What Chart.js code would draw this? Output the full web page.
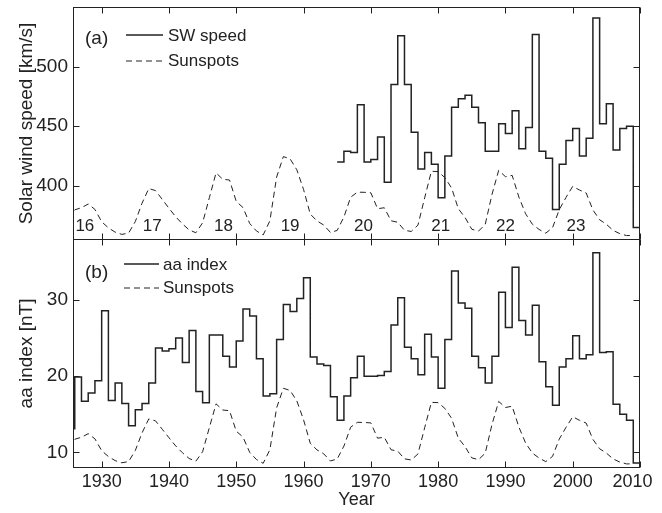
<!DOCTYPE html>
<html>
<head>
<meta charset="utf-8">
<script src="https://cdn.jsdelivr.net/npm/chart.js@4.4.0/dist/chart.umd.min.js"></script>
<style>
  body { margin: 0; background: #fff; }
  #wrap { position: relative; width: 662px; height: 513px; }
  canvas { position: absolute; left: 0; }
</style>
</head>
<body>
<div id="wrap">
  <canvas id="swChart" width="662" height="240" style="top:0"></canvas>
  <canvas id="aaChart" width="662" height="274" style="top:239px"></canvas>
</div>
<script>
// yearly values
var years = [1925, 1926, 1927, 1928, 1929, 1930, 1931, 1932, 1933, 1934,
  1935, 1936, 1937, 1938, 1939, 1940, 1941, 1942, 1943, 1944,
  1945, 1946, 1947, 1948, 1949, 1950, 1951, 1952, 1953, 1954,
  1955, 1956, 1957, 1958, 1959, 1960, 1961, 1962, 1963, 1964,
  1965, 1966, 1967, 1968, 1969, 1970, 1971, 1972, 1973, 1974,
  1975, 1976, 1977, 1978, 1979, 1980, 1981, 1982, 1983, 1984,
  1985, 1986, 1987, 1988, 1989, 1990, 1991, 1992, 1993, 1994,
  1995, 1996, 1997, 1998, 1999, 2000, 2001, 2002, 2003, 2004,
  2005, 2006, 2007, 2008, 2009];

var sunspots = [44.3, 63.9, 69.0, 77.8, 65.0, 35.7, 21.2, 11.1, 5.7, 8.7,
  36.1, 79.7, 114.4, 109.6, 88.8, 67.8, 47.5, 30.6, 16.3, 9.6,
  33.2, 92.6, 151.6, 136.3, 134.7, 83.9, 69.4, 31.5, 13.9, 4.4,
  38.0, 141.7, 190.2, 184.8, 159.0, 112.3, 53.9, 37.6, 27.9, 10.2,
  15.1, 47.0, 93.8, 105.9, 105.5, 104.5, 66.6, 68.9, 38.0, 34.5,
  15.5, 12.6, 27.5, 92.5, 155.4, 154.6, 140.4, 115.9, 66.6, 45.9,
  17.9, 13.4, 29.4, 100.2, 157.6, 142.6, 145.7, 94.3, 54.6, 29.9,
  17.5, 8.6, 21.5, 64.3, 93.3, 119.6, 111.0, 104.0, 63.7, 40.4,
  29.8, 15.2, 7.5, 2.9, 3.1];

var aaIndex = [13.1, 19.9, 16.7, 17.8, 19.4, 28.6, 16.8, 19.1, 16.4, 13.5,
  15.6, 16.4, 19.1, 23.7, 23.3, 23.6, 25.0, 21.8, 26.0, 18.0,
  16.5, 25.4, 25.4, 22.6, 21.2, 24.6, 28.8, 27.9, 22.3, 17.4,
  17.7, 24.8, 29.4, 28.5, 30.2, 32.9, 22.5, 21.6, 21.4, 17.3,
  14.2, 17.4, 19.8, 22.6, 20.0, 20.0, 20.1, 20.6, 26.7, 30.3,
  23.8, 22.3, 20.2, 25.5, 22.5, 18.4, 24.8, 33.8, 29.6, 28.9,
  22.6, 21.1, 19.1, 22.6, 31.0, 26.4, 34.3, 27.3, 25.4, 29.3,
  21.9, 18.6, 16.2, 21.2, 22.3, 25.3, 22.3, 22.8, 36.2, 23.1,
  23.2, 16.3, 15.0, 14.2, 8.6];

// solar wind data start in 1965
var swSpeed = [null, null, null, null, null, null, null, null, null, null,
  null, null, null, null, null, null, null, null, null, null,
  null, null, null, null, null, null, null, null, null, null,
  null, null, null, null, null, null, null, null, null, null,
  420, 429, 428, 468, 420, 422, 441, 403, 485, 526,
  485, 445, 414, 428, 418, 390, 425, 466, 473, 476,
  466, 453, 429, 429, 452, 444, 463, 431, 449, 527,
  429, 423, 380, 418, 438, 448, 425, 440, 541, 452,
  469, 430, 448, 450, 365];

var cycleNames = ['16', '17', '18', '19', '20', '21', '22', '23'];
var cycleYears = [1927.5, 1937.5, 1948.1, 1958.0, 1968.9, 1980.4, 1990.0, 2000.5];
var cycleLevel = 365.5;

var yearTicks = [1930, 1940, 1950, 1960, 1970, 1980, 1990, 2000, 2010];
var swTicks = [400, 450, 500];
var aaTicks = [10, 20, 30];

var ink = '#222';
var fontName = "'Liberation Sans', Arial, sans-serif";
Chart.defaults.font.family = fontName;
Chart.defaults.color = ink;

// stairs: each value holds for one year, add closing point
function stairs(vals) {
  var pts = [];
  for (var i = 0; i < years.length; i++) {
    pts.push({ x: years[i], y: vals[i] });
  }
  pts.push({ x: years[years.length - 1] + 1, y: vals[vals.length - 1] });
  return pts;
}

function curve(vals) {
  return years.map(function (y, i) { return { x: y, y: vals[i] }; });
}

function setTicks(list) {
  return function (scale) {
    scale.ticks = list.map(function (v) { return { value: v }; });
  };
}

// box round the plot and inward tick marks (matlab style)
var frame = {
  id: 'frame',
  afterDraw: function (chart) {
    var ctx = chart.ctx, a = chart.chartArea;
    var xs = chart.scales.x, ys = chart.scales.y;
    var l = Math.round(a.left) + 0.5, r = Math.round(a.right) - 0.5;
    var t = Math.round(a.top) + 0.5, b = Math.round(a.bottom) - 0.5;
    ctx.save();
    ctx.strokeStyle = ink;
    ctx.lineWidth = 1;
    ctx.strokeRect(l, t, r - l, b - t);
    ctx.beginPath();
    xs.ticks.forEach(function (tk) {
      var px = Math.round(xs.getPixelForValue(tk.value)) + 0.5;
      ctx.moveTo(px, b); ctx.lineTo(px, b - 6);
      ctx.moveTo(px, t); ctx.lineTo(px, t + 6);
    });
    ys.ticks.forEach(function (tk) {
      var py = Math.round(ys.getPixelForValue(tk.value)) + 0.5;
      ctx.moveTo(l, py); ctx.lineTo(l + 6, py);
      ctx.moveTo(r, py); ctx.lineTo(r - 6, py);
    });
    ctx.stroke();

    // panel key
    var k = chart.options.plugins.frame;
    ctx.fillStyle = ink;
    ctx.textBaseline = 'middle';
    ctx.font = '19px ' + fontName;
    ctx.fillText(k.tag, a.left + 12, a.top + k.tagY);
    ctx.font = '17px ' + fontName;
    ctx.fillText(k.names[0], k.textX, a.top + k.row1 + 1.5);
    ctx.fillText(k.names[1], k.textX, a.top + k.row2);
    ctx.lineWidth = 1.3;
    ctx.beginPath();
    ctx.moveTo(k.lineX[0], a.top + k.row1); ctx.lineTo(k.lineX[1], a.top + k.row1);
    ctx.stroke();
    ctx.lineWidth = 1;
    ctx.setLineDash([6, 4]);
    ctx.beginPath();
    ctx.moveTo(k.lineX[0], a.top + k.row2); ctx.lineTo(k.lineX[1], a.top + k.row2);
    ctx.stroke();
    ctx.setLineDash([]);

    // cycle numbers
    if (k.cycles) {
      ctx.textAlign = 'center';
      cycleNames.forEach(function (n, i) {
        ctx.fillText(n, xs.getPixelForValue(cycleYears[i]), ys.getPixelForValue(cycleLevel));
      });
    }
    ctx.restore();
  }
};

var xMin = 1925.74, xMax = 2010;

function xScale(showLabels, h) {
  return {
    type: 'linear', min: xMin, max: xMax,
    afterBuildTicks: setTicks(yearTicks),
    afterFit: function (s) {
      s.height = h;
      s.paddingLeft = 0; s.paddingRight = 0;
    },
    grid: { display: false, drawTicks: false }, border: { display: false },
    ticks: { display: showLabels, padding: 3, autoSkip: false, maxRotation: 0,
      font: { size: 18 },
      // last label sits a little inside the right edge, as in the figure
      callback: function (v) { return v === xMax ? v + '   ' : String(v); } },
    title: { display: showLabels, text: 'Year', font: { size: 18 }, padding: { top: 0, bottom: 2.5 } }
  };
}

function yScale(min, max, list, label) {
  return {
    type: 'linear', min: min, max: max,
    afterBuildTicks: setTicks(list),
    afterFit: function (s) {
      s.width = 73;
      s.paddingTop = 0; s.paddingBottom = 0;
    },
    grid: { display: false, drawTicks: false }, border: { display: false },
    ticks: { padding: 5, font: { size: 19 } },
    title: { display: true, text: label, font: { size: 19 }, padding: { top: 15, bottom: 0 } }
  };
}

function hidden(min, max) {
  return { type: 'linear', display: false, min: min, max: max };
}

var solid = { borderColor: ink, borderWidth: 1.5, pointRadius: 0, stepped: 'before', fill: false, spanGaps: false };
var dashed = { borderColor: ink, borderWidth: 1, pointRadius: 0, tension: 0, borderDash: [6, 4], fill: false };

new Chart(document.getElementById('swChart'), {
  type: 'line',
  data: {
    datasets: [
      Object.assign({ label: 'SW speed', data: stairs(swSpeed), yAxisID: 'y' }, solid),
      Object.assign({ label: 'Sunspots', data: curve(sunspots), yAxisID: 'ss' }, dashed)
    ]
  },
  options: {
    responsive: false, animation: false,
    layout: { padding: { top: 7, right: 22, left: 0, bottom: 0 } },
    scales: {
      x: xScale(false, 0),
      y: yScale(354.4, 550.2, swTicks, 'Solar wind speed [km/s]'),
      ss: hidden(-7.6, 545)
    },
    plugins: {
      legend: { display: false }, tooltip: { enabled: false },
      frame: { tag: '(a)', tagY: 32, names: ['SW speed', 'Sunspots'], row1: 28, row2: 54,
        lineX: [126, 163], textX: 168, cycles: true }
    }
  },
  plugins: [frame]
});

new Chart(document.getElementById('aaChart'), {
  type: 'line',
  data: {
    datasets: [
      Object.assign({ label: 'aa index', data: stairs(aaIndex), yAxisID: 'y' }, solid),
      Object.assign({ label: 'Sunspots', data: curve(sunspots), yAxisID: 'ss' }, dashed)
    ]
  },
  options: {
    responsive: false, animation: false,
    layout: { padding: { top: 0, right: 22, left: 0, bottom: 0 } },
    scales: {
      x: xScale(true, 45),
      y: yScale(7.95, 38, aaTicks, 'aa index [nT]'),
      ss: hidden(-7.2, 559.7)
    },
    plugins: {
      legend: { display: false }, tooltip: { enabled: false },
      frame: { tag: '(b)', tagY: 34, names: ['aa index', 'Sunspots'], row1: 25, row2: 49,
        lineX: [124, 159], textX: 163, cycles: false }
    }
  },
  plugins: [frame]
});
</script>
</body>
</html>
